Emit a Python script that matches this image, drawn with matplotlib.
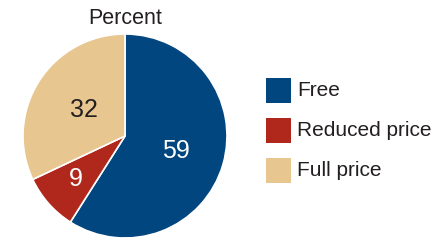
import numpy as np
import matplotlib
matplotlib.use("Agg")
import matplotlib.pyplot as plt
from matplotlib.patches import Rectangle

plt.rcParams['font.family'] = ['Liberation Sans', 'DejaVu Sans']

categories = ["Free", "Reduced price", "Full price"]
values = [59, 9, 32]
colors = ["#02467f", "#b0281c", "#e8c690"]
label_colors = ["white", "white", "#231f20"]
label_dist = [0.52, 0.64, 0.48]

fig = plt.figure(figsize=(4.33, 2.4), dpi=100)
W, H = 433, 240
cx, cy, r = 125, 136, 102
ax = fig.add_axes([(cx - r) / W, (H - cy - r) / H, 2 * r / W, 2 * r / H])
wedges, _ = ax.pie(values, colors=colors, startangle=90, counterclock=False,
                   radius=1, wedgeprops=dict(edgecolor="white", linewidth=1.2))
ax.set_xlim(-1, 1)
ax.set_ylim(-1, 1)
ax.set_aspect('equal')
ax.axis('off')

for w, v, c, d in zip(wedges, values, label_colors, label_dist):
    ang = np.deg2rad((w.theta1 + w.theta2) / 2)
    ax.text(d * np.cos(ang), d * np.sin(ang), str(v), color=c, fontsize=18,
            ha='center', va='center')

fig.text(cx / W, 1 - 18 / H, "Percent", ha='center', va='center', fontsize=15.5, color="#231f20")

# legend
sq = 25
x0 = 266
y_tops = [78, 118, 158]
for cat, col, yt in zip(categories, colors, y_tops):
    fig.patches.append(Rectangle((x0 / W, (H - yt - sq) / H), sq / W, sq / H,
                                 transform=fig.transFigure, facecolor=col, edgecolor='none'))
    fig.text(297 / W, (H - yt - sq / 2) / H, cat, ha='left', va='center',
             fontsize=15, color="#231f20")

fig.savefig("out.png", dpi=100)
